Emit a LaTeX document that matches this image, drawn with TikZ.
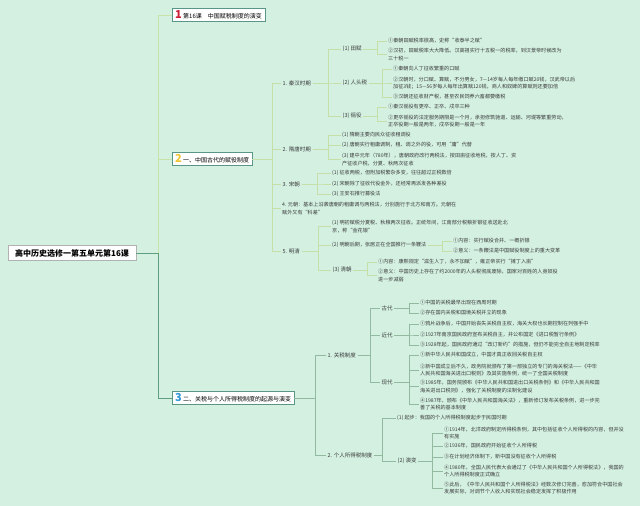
\documentclass[tikz,border=0pt]{standalone}
\usepackage{fontspec}
\setmainfont{Noto Sans CJK SC}

\definecolor{bgc}{RGB}{211,240,225}
\definecolor{trunkup}{RGB}{200,226,168}
\definecolor{trunkdn}{RGB}{96,158,128}
\definecolor{linetwo}{RGB}{198,222,168}
\definecolor{linethree}{RGB}{145,186,160}
\definecolor{boxline}{RGB}{90,150,135}
\definecolor{numone}{RGB}{208,30,55}
\definecolor{numtwo}{RGB}{240,196,50}
\definecolor{numthree}{RGB}{50,150,215}
\definecolor{leaftxt}{RGB}{60,60,60}

\newcommand{\bnum}[2]{{\fontsize{11}{11}\selectfont\bfseries\color{#1}#2}}

\tikzset{
  rootbox/.style={draw=gray!60, fill=white, font=\fontsize{8}{9}\selectfont\bfseries,
    inner xsep=7pt, minimum height=15pt, anchor=west},
  mainbox/.style={draw=boxline, fill=white, font=\fontsize{6}{7}\selectfont,
    inner xsep=3pt, inner ysep=1pt, minimum height=13pt, anchor=west},
  lab/.style={font=\fontsize{5.5}{7}\selectfont, text=leaftxt, inner sep=1.5pt, anchor=west},
  leaf/.style={font=\fontsize{5.1}{7.3}\selectfont, text=leaftxt, align=left, inner sep=1pt, anchor=west},
  trunk/.style={line width=1pt},
  ln2/.style={draw=linetwo, line width=0.6pt},
  ln3/.style={draw=linethree, line width=0.6pt},
}

\begin{document}
\begin{tikzpicture}[x=1pt,y=-1pt]
  \useasboundingbox (0,0) rectangle (640,506);
  \fill[bgc] (0,0) rectangle (640,506);

  % root and main topics
  \node[rootbox] (rt) at (8,253) {高中历史选修一第五单元第16课};
  \node[mainbox] (b1) at (172,15) {\bnum{numone}{1}\ 第16课　中国赋税制度的演变};
  \node[mainbox] (b2) at (172,159) {\bnum{numtwo}{2}\ 一、中国古代的赋役制度};
  \node[mainbox] (b3) at (172,398) {\bnum{numthree}{3}\ 二、关税与个人所得税制度的起源与演变};

  % bracket columns
  \coordinate (tk) at (158,0);
  \coordinate (k2) at (272,0);
  \coordinate (kqh) at (328,0);
  \coordinate (kqh1) at (377,0);
  \coordinate (kqh2) at (382,0);
  \coordinate (kqh3) at (377,0);
  \coordinate (kst) at (328,0);
  \coordinate (ksc) at (317,0);
  \coordinate (kmq) at (318,0);
  \coordinate (kmq2) at (442,0);
  \coordinate (kmq3) at (367,0);
  \coordinate (k3) at (315,0);
  \coordinate (kgs) at (370,0);
  \coordinate (kgd) at (409,0);
  \coordinate (kgr) at (382,0);
  \coordinate (kgr2) at (432,0);

  % 一、中国古代的赋役制度
  \node[lab] (qh) at (281,83) {1. 秦汉时期};
  \node[lab] (st) at (281,149) {2. 隋唐时期};
  \node[lab] (sc) at (281,184) {3. 宋朝};
  \node[leaf] (yc) at (281,208.5) {4. 元朝：基本上沿袭唐朝的租庸调与两税法，分别施行于北方和南方。元朝在\\赋外又有“科差”};
  \node[lab] (mq) at (281,251) {5. 明清};

  \node[lab] (qh1) at (341,49) {(1) 田赋};
  \node[lab] (qh2) at (341,83) {(2) 人头税};
  \node[lab] (qh3) at (341,116) {(3) 徭役};

  \node[leaf] (qh1a) at (387,41) {①秦朝田赋税率很高，史称“收泰半之赋”};
  \node[leaf] (qh1b) at (387,54.5) {②汉初，田赋税率大大降低。汉高祖实行十五税一的税率，到汉景帝时候改为\\三十税一};
  \node[leaf] (qh2a) at (392,69) {①秦朝向人丁征收繁重的口赋};
  \node[leaf] (qh2b) at (392,83) {②汉朝时，分口赋、算赋，不分男女，7—14岁每人每年缴口赋20钱，汉武帝以后\\加征3钱；15—56岁每人每年出算赋120钱，商人和奴婢的算赋则还要加倍};
  \node[leaf] (qh2c) at (392,97) {③汉朝还征收财产税，甚至农民饲养六畜都要缴税};
  \node[leaf] (qh3a) at (387,107) {①秦汉徭役有更卒、正卒、戍卒三种};
  \node[leaf] (qh3b) at (387,121) {②更卒徭役的法定服务期限是一个月，承担修筑驰道、运输、河堤等繁重劳动，\\正卒役期一般是两年，戍卒役期一般是一年};

  \node[leaf] (st1) at (341,135) {(1) 隋朝主要向民众征收租调役};
  \node[leaf] (st2) at (341,145) {(2) 唐朝实行租庸调制，租、调之外的役，可用“庸”代替};
  \node[leaf] (st3) at (341,159.5) {(3) 建中元年（780年），唐朝政府改行两税法，按田亩征收地税，按人丁、资\\产征收户税，分夏、秋两次征收};

  \node[leaf] (sc1) at (331,173) {(1) 征收两税，但附加税繁杂多变，往往超过正税数倍};
  \node[leaf] (sc2) at (331,184) {(2) 宋朝除了征收代役金外，还经常再派发各种差役};
  \node[leaf] (sc3) at (331,194) {(3) 王安石推行募役法};

  \node[leaf] (mq1) at (331,226.5) {(1) 明初赋税分夏税、秋粮两次征收。正统年间，江南部分税粮折银征收送赴北\\京，称“金花银”};
  \node[leaf] (mq2) at (331,245) {(2) 明朝后期，张居正在全国推行一条鞭法};
  \node[lab] (mq3) at (331,270) {(3) 清朝};
  \node[leaf] (mq2a) at (452,241) {①内容：实行赋役合并、一概折银};
  \node[leaf] (mq2b) at (452,251) {②意义：一条鞭法是中国赋役制度上的重大变革};
  \node[leaf] (mq3a) at (377,262) {①内容：康熙规定“滋生人丁，永不加赋”，雍正帝实行“摊丁入亩”};
  \node[leaf] (mq3b) at (377,275.5) {②意义：中国历史上存在了约2000年的人头税彻底废除，国家对百姓的人身奴役\\进一步减弱};

  % 二、关税与个人所得税制度的起源与演变
  \node[lab] (gs) at (326,355) {1. 关税制度};
  \node[lab] (gr) at (326,455) {2. 个人所得税制度};

  \node[lab] (gd) at (380,308) {古代};
  \node[lab] (jd) at (380,335) {近代};
  \node[lab] (xd) at (380,382) {现代};

  \node[leaf] (gd1) at (419,303) {①中国的关税最早出现在西周时期};
  \node[leaf] (gd2) at (419,313) {②存在国内关税和国境关税并立的现象};
  \node[leaf] (jd1) at (419,324) {①鸦片战争后，中国开始丧失关税自主权，海关大权也长期控制在列强手中};
  \node[leaf] (jd2) at (419,335) {②1927年南京国民政府宣布关税自主，并公布国定《进口税暂行条例》};
  \node[leaf] (jd3) at (419,345) {③1928年起，国民政府通过“改订新约”的措施，但仍不能完全自主地制定税率};
  \node[leaf] (xd1) at (419,355) {①新中华人民共和国成立，中国才真正收回关税自主权};
  \node[leaf] (xd2) at (419,370) {②新中国成立后不久，政务院就颁布了第一部独立的专门的海关税法——《中华\\人民共和国海关进出口税则》及其实施条例，统一了全国关税制度};
  \node[leaf] (xd3) at (419,386.5) {③1985年，国务院颁布《中华人民共和国进出口关税条例》和《中华人民共和国\\海关进出口税则》，强化了关税制度的法制化建设};
  \node[leaf] (xd4) at (419,404) {④1987年，颁布《中华人民共和国海关法》，重新修订发布关税条例，进一步完\\善了关税的基本制度};

  \node[leaf] (gr1) at (396,418) {(1) 起步：我国的个人所得税制度起步于民国时期};
  \node[lab] (gr2) at (396,461) {(2) 演变};
  \node[leaf] (gr2a) at (443,433) {①1914年，北洋政府制定所得税条例，其中包括征收个人所得税的内容，但并没\\有实施};
  \node[leaf] (gr2b) at (443,446) {②1936年，国民政府开始征收个人所得税};
  \node[leaf] (gr2c) at (443,457) {③在计划经济体制下，新中国没有征收个人所得税};
  \node[leaf] (gr2d) at (443,471) {④1980年，全国人民代表大会通过了《中华人民共和国个人所得税法》，我国的\\个人所得税制度正式确立};
  \node[leaf] (gr2e) at (443,488) {⑤此后，《中华人民共和国个人所得税法》经数次修订完善，愈加符合中国社会\\发展实际，对调节个人收入和实现社会稳定发挥了积极作用};

  % connectors
  \draw[trunk,draw=trunkup] (rt.east) -- (tk |- rt.east) |- (b1.west);
  \draw[trunk,draw=trunkup] (tk |- rt.east) |- (b2.west);
  \draw[trunk,draw=trunkdn] (rt.east) -- (tk |- rt.east) |- (b3.west);

  \foreach \c in {qh,st,sc,yc,mq} \draw[ln2] (b2.east) -- (k2 |- b2.east) |- (\c.west);
  \foreach \c in {qh1,qh2,qh3} \draw[ln2] (qh.east) -- (kqh |- qh.east) |- (\c.west);
  \foreach \c in {qh1a,qh1b} \draw[ln2] (qh1.east) -- (kqh1 |- qh1.east) |- (\c.west);
  \foreach \c in {qh2a,qh2b,qh2c} \draw[ln2] (qh2.east) -- (kqh2 |- qh2.east) |- (\c.west);
  \foreach \c in {qh3a,qh3b} \draw[ln2] (qh3.east) -- (kqh3 |- qh3.east) |- (\c.west);
  \foreach \c in {st1,st2,st3} \draw[ln2] (st.east) -- (kst |- st.east) |- (\c.west);
  \foreach \c in {sc1,sc2,sc3} \draw[ln2] (sc.east) -- (ksc |- sc.east) |- (\c.west);
  \foreach \c in {mq1,mq2,mq3} \draw[ln2] (mq.east) -- (kmq |- mq.east) |- (\c.west);
  \foreach \c in {mq2a,mq2b} \draw[ln2] (mq2.east) -- (kmq2 |- mq2.east) |- (\c.west);
  \foreach \c in {mq3a,mq3b} \draw[ln2] (mq3.east) -- (kmq3 |- mq3.east) |- (\c.west);

  \foreach \c in {gs,gr} \draw[ln3] (b3.east) -- (k3 |- b3.east) |- (\c.west);
  \foreach \c in {gd,jd,xd} \draw[ln3] (gs.east) -- (kgs |- gs.east) |- (\c.west);
  \foreach \c in {gd1,gd2} \draw[ln3] (gd.east) -- (kgd |- gd.east) |- (\c.west);
  \foreach \c in {jd1,jd2,jd3} \draw[ln3] (jd.east) -- (kgd |- jd.east) |- (\c.west);
  \foreach \c in {xd1,xd2,xd3,xd4} \draw[ln3] (xd.east) -- (kgd |- xd.east) |- (\c.west);
  \foreach \c in {gr1,gr2} \draw[ln3] (gr.east) -- (kgr |- gr.east) |- (\c.west);
  \foreach \c in {gr2a,gr2b,gr2c,gr2d,gr2e} \draw[ln3] (gr2.east) -- (kgr2 |- gr2.east) |- (\c.west);
\end{tikzpicture}
\end{document}
